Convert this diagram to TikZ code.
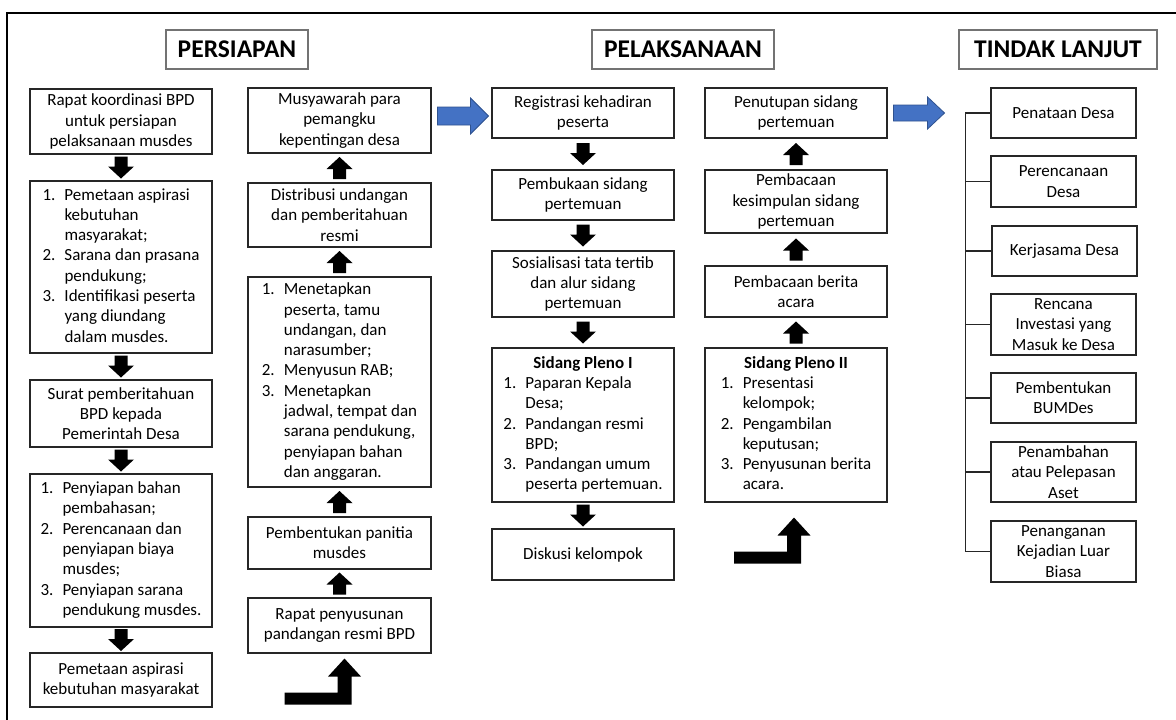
\documentclass[tikz,border=0pt]{standalone}
\usepackage{fontspec}
\setmainfont{Carlito}
\usetikzlibrary{calc}
\definecolor{oblue}{HTML}{4472C4}
\definecolor{oblueedge}{HTML}{2F528F}
\tikzset{
  box/.style={draw=black!85, line width=1.1pt, fill=white, align=center, inner sep=0pt, font=\fontsize{17}{20.3}\selectfont},
  titlebox/.style={draw=black!55, line width=1.1pt, inner sep=0pt, font=\fontsize{25.5}{28}\selectfont\bfseries, minimum height=39pt},
  bluearrstyle/.style={fill=oblue, draw=oblueedge, line width=0.8pt},
  branch/.style={draw=black!85, line width=1.1pt},
  frame/.style={draw=black, line width=2.5pt},
}
\newcommand\downblk[2]{\fill ($(#1.south)!0.5!(#2.north)$) ++(-6.5,-11) -- ++(13,0) -- ++(0,10) -- ++(6.5,0) -- ++(-13,12) -- ++(-13,-12) -- ++(6.5,0) -- cycle;}
\newcommand\upblk[2]{\fill ($(#1.north)!0.5!(#2.south)$) ++(-6.5,11) -- ++(13,0) -- ++(0,-10) -- ++(6.5,0) -- ++(-13,-12) -- ++(-13,12) -- ++(6.5,0) -- cycle;}
\newcommand\bluearr[5]{\filldraw[bluearrstyle] (#1) ++(0,-#4) -- ++(#2-#3,0) -- ++(0,#4-#5) -- ++(#3,#5) -- ++(-#3,#5) -- ++(0,#4-#5) -- ++(-#2+#3,0) -- cycle;}
\newcommand\bentarr[1]{\fill (#1) -- ++(16.5,18) -- ++(-9.5,0) -- ++(0,28) -- ++(-67,0) -- ++(0,-12) -- ++(53,0) -- ++(0,-16) -- ++(-9.5,0) -- cycle;}
\begin{document}
\begin{tikzpicture}[x=1pt,y=-1pt]
\useasboundingbox (0,0) rectangle (1176,720);
\fill[white] (0,0) rectangle (1176,720);
\draw[frame] (1176,13) -- (7,13) -- (7,720);

% titles
\node[titlebox, minimum width=142pt] (T1) at (237,49.5) {PERSIAPAN};
\node[titlebox, minimum width=182pt] (T2) at (683,49.5) {PELAKSANAAN};
\node[titlebox, minimum width=198pt] (T3) at (1058,49.5) {TINDAK LANJUT};

% column 1
\node[box, minimum width=182pt, minimum height=65pt] (B1) at (121,121.5) {Rapat koordinasi BPD\\untuk persiapan\\pelaksanaan musdes};
\node[box, minimum width=182pt, minimum height=172pt] (B2) at (121,267) {\begin{tabular}{@{}p{22pt}@{}l@{}}
1. & Pemetaan aspirasi\\
 & kebutuhan\\
 & masyarakat;\\
2. & Sarana dan prasana\\
 & pendukung;\\
3. & Identifikasi peserta\\
 & yang diundang\\
 & dalam musdes.
\end{tabular}};
\node[box, minimum width=182pt, minimum height=67pt] (B3) at (121,413.5) {Surat pemberitahuan\\BPD kepada\\Pemerintah Desa};
\node[box, minimum width=182pt, minimum height=153pt] (B4) at (121,550.5) {\begin{tabular}{@{}p{22pt}@{}l@{}}
1. & Penyiapan bahan\\
 & pembahasan;\\
2. & Perencanaan dan\\
 & penyiapan biaya\\
 & musdes;\\
3. & Penyiapan sarana\\
 & pendukung musdes.
\end{tabular}};
\node[box, minimum width=182pt, minimum height=54pt] (B5) at (121,680) {Pemetaan aspirasi\\kebutuhan masyarakat};
\downblk{B1}{B2}
\downblk{B2}{B3}
\downblk{B3}{B4}
\downblk{B4}{B5}

% column 2
\node[box, minimum width=183pt, minimum height=65pt] (C1) at (339.5,120.5) {Musyawarah para\\pemangku\\kepentingan desa};
\node[box, minimum width=183pt, minimum height=64pt] (C2) at (339.5,215) {Distribusi undangan\\dan pemberitahuan\\resmi};
\node[box, minimum width=183pt, minimum height=210pt] (C3) at (339.5,382) {\begin{tabular}{@{}p{22pt}@{}l@{}}
1. & Menetapkan\\
 & peserta, tamu\\
 & undangan, dan\\
 & narasumber;\\
2. & Menyusun RAB;\\
3. & Menetapkan\\
 & jadwal, tempat dan\\
 & sarana pendukung,\\
 & penyiapan bahan\\
 & dan anggaran.
\end{tabular}};
\node[box, minimum width=183pt, minimum height=52pt] (C4) at (339.5,543) {Pembentukan panitia\\musdes};
\node[box, minimum width=183pt, minimum height=55pt] (C5) at (339.5,625.5) {Rapat penyusunan\\pandangan resmi BPD};
\upblk{C2}{C1}
\upblk{C3}{C2}
\upblk{C4}{C3}
\upblk{C5}{C4}
\bentarr{$(C5.south)+(5,5)$}

% column 3
\node[box, minimum width=182pt, minimum height=50pt] (D1) at (583,113) {Registrasi kehadiran\\peserta};
\node[box, minimum width=182pt, minimum height=50pt] (D2) at (583,195) {Pembukaan sidang\\pertemuan};
\node[box, minimum width=182pt, minimum height=66pt] (D3) at (583,284) {Sosialisasi tata tertib\\dan alur sidang\\pertemuan};
\node[box, minimum width=182pt, minimum height=154pt] (D4) at (583,425) {\begin{tabular}{@{}p{22pt}@{}l@{}}
\multicolumn{2}{@{}c@{}}{\textbf{Sidang Pleno I}}\\
1. & Paparan Kepala\\
 & Desa;\\
2. & Pandangan resmi\\
 & BPD;\\
3. & Pandangan umum\\
 & peserta pertemuan.
\end{tabular}};
\node[box, minimum width=182pt, minimum height=51pt] (D5) at (583,554.5) {Diskusi kelompok};
\downblk{D1}{D2}
\downblk{D2}{D3}
\downblk{D3}{D4}
\downblk{D4}{D5}

% column 4
\node[box, minimum width=182pt, minimum height=50pt] (E1) at (796,113) {Penutupan sidang\\pertemuan};
\node[box, minimum width=182pt, minimum height=63pt] (E2) at (796,201.5) {Pembacaan\\kesimpulan sidang\\pertemuan};
\node[box, minimum width=182pt, minimum height=51pt] (E3) at (796,291.5) {Pembacaan berita\\acara};
\node[box, minimum width=182pt, minimum height=154pt] (E4) at (796,425) {\begin{tabular}{@{}p{22pt}@{}l@{}}
\multicolumn{2}{@{}c@{}}{\textbf{Sidang Pleno II}}\\
1. & Presentasi\\
 & kelompok;\\
2. & Pengambilan\\
 & keputusan;\\
3. & Penyusunan berita\\
 & acara.
\end{tabular}};
\upblk{E2}{E1}
\upblk{E3}{E2}
\upblk{E4}{E3}
\bentarr{$(E4.south)+(-2,15)$}

% blue arrows
\bluearr{$(C1.east)+(6,-4.5)$}{51}{18}{9}{18}
\bluearr{$(E1.east)+(6,0)$}{51}{17}{8}{16}

% column 5
\node[box, minimum width=145pt, minimum height=50pt] (F1) at (1063.5,113) {Penataan Desa};
\node[box, minimum width=145pt, minimum height=51pt] (F2) at (1063.5,181.5) {Perencanaan\\Desa};
\node[box, minimum width=145pt, minimum height=50pt] (F3) at (1064.5,251) {Kerjasama Desa};
\node[box, minimum width=145pt, minimum height=61pt] (F4) at (1063.5,324.5) {Rencana\\Investasi yang\\Masuk ke Desa};
\node[box, minimum width=145pt, minimum height=50pt] (F5) at (1063.5,398) {Pembentukan\\BUMDes};
\node[box, minimum width=145pt, minimum height=60pt] (F6) at (1063.5,472) {Penambahan\\atau Pelepasan\\Aset};
\node[box, minimum width=145pt, minimum height=61pt] (F7) at (1063.5,551.5) {Penanganan\\Kejadian Luar\\Biasa};
\coordinate (trunk) at ($(F1.west)+(-25,0)$);
\draw[branch] (F1.west) -- (trunk) |- (F7.west);
\foreach \n in {F2,F3,F4,F5,F6} {\draw[branch] (\n.west) -- (\n.west -| trunk);}
\end{tikzpicture}
\end{document}
